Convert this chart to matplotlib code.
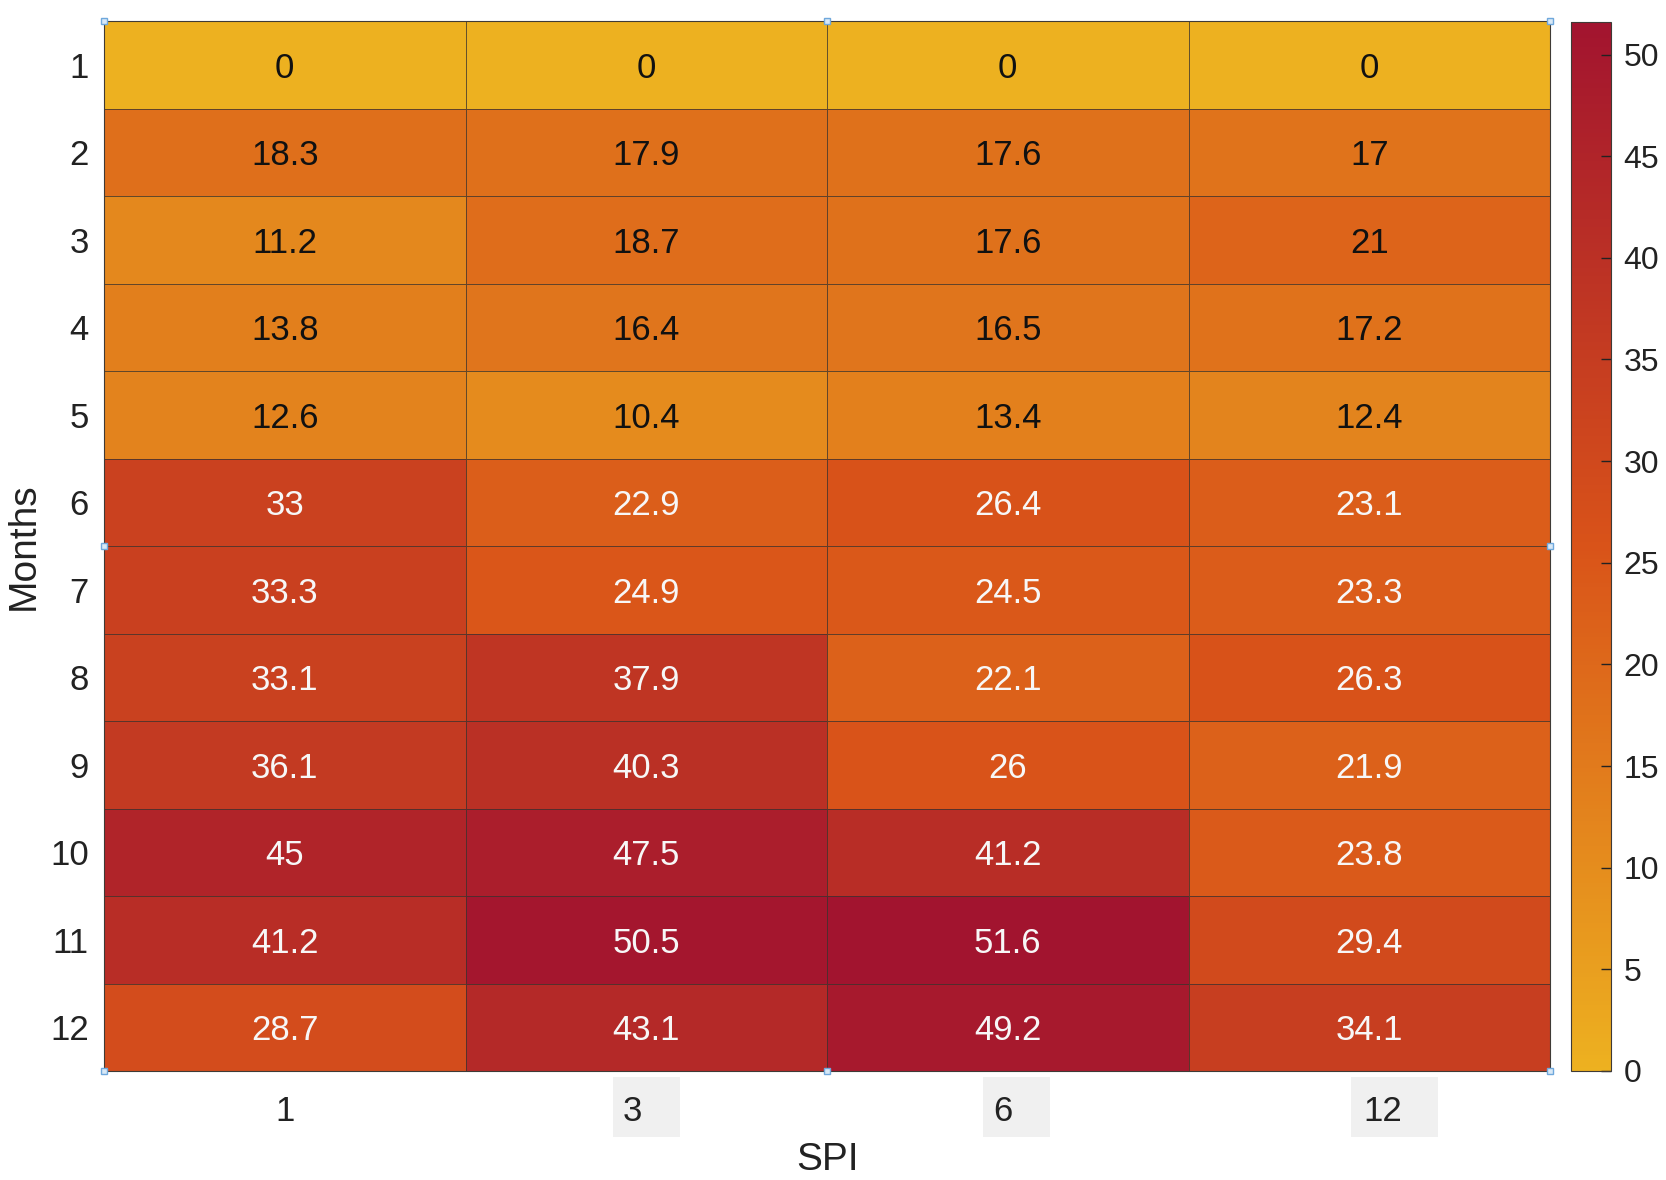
import numpy as np
import matplotlib
matplotlib.use("Agg")
import matplotlib.pyplot as plt
import matplotlib.transforms as mtransforms
from matplotlib.colors import LinearSegmentedColormap, to_rgb
from matplotlib.patches import Rectangle

spi_labels = ["1", "3", "6", "12"]
month_labels = [str(m) for m in range(1, 13)]
spi1 = [0, 18.3, 11.2, 13.8, 12.6, 33, 33.3, 33.1, 36.1, 45, 41.2, 28.7]
spi3 = [0, 17.9, 18.7, 16.4, 10.4, 22.9, 24.9, 37.9, 40.3, 47.5, 50.5, 43.1]
spi6 = [0, 17.6, 17.6, 16.5, 13.4, 26.4, 24.5, 22.1, 26, 41.2, 51.6, 49.2]
spi12 = [0, 17, 21, 17.2, 12.4, 23.1, 23.3, 26.3, 21.9, 23.8, 29.4, 34.1]
cbar_ticks = [0, 5, 10, 15, 20, 25, 30, 35, 40, 45, 50]

data = np.column_stack([spi1, spi3, spi6, spi12])
vmax = data.max()

plt.rcParams['font.family'] = ['Liberation Sans', 'DejaVu Sans']

cmap = LinearSegmentedColormap.from_list("mat", ["#EDB120", "#D95319", "#A2142F"])

W, H = 1666, 1180
fig = plt.figure(figsize=(W / 100, H / 100), dpi=100)
ax = fig.add_axes([104 / W, 1 - 1071 / H, (1550 - 104) / W, (1071 - 21) / H])

nr, nc = data.shape
mesh = ax.pcolormesh(np.arange(nc + 1), np.arange(nr + 1), data, cmap=cmap,
                     vmin=0, vmax=vmax, edgecolors=(0.22, 0.2, 0.18, 0.75),
                     linewidth=0.6)
ax.set_xlim(0, nc)
ax.set_ylim(nr, 0)

for i in range(nr):
    for j in range(nc):
        v = data[i, j]
        r, g, b = to_rgb(cmap(v / vmax))
        lum = 0.299 * r + 0.587 * g + 0.114 * b
        col = "#111111" if lum > 0.5 else "#f7f7f7"
        ax.text(j + 0.5, i + 0.5, f"{v:g}", ha="center", va="center_baseline",
                fontsize=25, color=col)

ax.set_xticks(np.arange(nc) + 0.5)
ax.set_xticklabels(spi_labels)
ax.set_yticks(np.arange(nr) + 0.5)
ax.set_yticklabels(month_labels)
ax.tick_params(axis="both", length=0, labelsize=25, colors="#222222")
ax.tick_params(axis="x", pad=17)
ax.tick_params(axis="y", pad=11)
for s in ax.spines.values():
    s.set_color("#3f3a36")
    s.set_linewidth(0.8)

# manually shifted x tick labels (as in the reference)
label_shift_px = [0, -14, -5, 13]
for lab, dx in zip(ax.get_xticklabels(), label_shift_px):
    lab.set_transform(lab.get_transform() +
                      mtransforms.ScaledTranslation(dx / 100, 0, fig.dpi_scale_trans))

# grey boxes behind some x tick labels (figure pixel coordinates)
for x0, x1 in [(613, 680), (983, 1050), (1351, 1438)]:
    fig.patches.append(Rectangle((x0 / W, 1 - 1137 / H), (x1 - x0) / W, 60 / H,
                                 transform=fig.transFigure, facecolor="#f0f0f0",
                                 edgecolor="none", zorder=-1))

# selection handles
hx = [0, 0.5, 1, 0, 1, 0, 0.5, 1]
hy = [1, 1, 1, 0.5, 0.5, 0, 0, 0]
ax.plot(hx, hy, linestyle="none", marker="s", markersize=5,
        markerfacecolor="#d8e8f6", markeredgecolor="#6fa8dc", markeredgewidth=1,
        transform=ax.transAxes, clip_on=False, zorder=10)

fig.text(827 / W, 1 - 1170 / H, "SPI", ha="center", va="baseline",
         fontsize=28, color="#222222")
fig.text(24 / W, 1 - 546 / H, "Months", ha="center", va="center",
         rotation=90, fontsize=28, color="#222222")

cax = fig.add_axes([1571 / W, 1 - 1071 / H, 40 / W, (1071 - 22) / H])
cb = fig.colorbar(mesh, cax=cax, ticks=cbar_ticks)
cb.outline.set_edgecolor("#3f3a36")
cb.outline.set_linewidth(0.8)
cax.tick_params(direction="in", length=7, width=1, colors="#222222",
                labelsize=23, pad=9)

fig.savefig("out.png", dpi=100)
